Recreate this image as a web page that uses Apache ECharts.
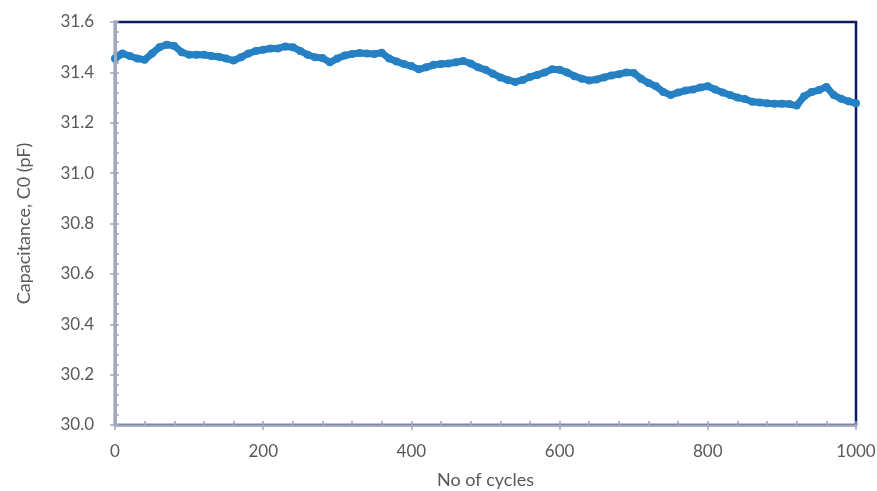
<!DOCTYPE html>
<html>
<head>
<meta charset="utf-8">
<script src="https://cdn.jsdelivr.net/npm/echarts@6/dist/echarts.min.js"></script>
<style>
  html, body { margin: 0; padding: 0; background: #fff; }
  #chart { width: 877px; height: 491px; }
</style>
</head>
<body>
<div id="chart"></div>
<script>
// cycles, read every 10 cycles off the picture
const cycles = []
for (let c = 0; c <= 1000; c += 10) cycles.push(c)

// capacitance C0 (pF)
const capacitance = [
  31.455, 31.475, 31.465, 31.455, 31.45, 31.475, 31.5, 31.51, 31.505, 31.48,
  31.47, 31.47, 31.47, 31.465, 31.462, 31.455, 31.447, 31.46, 31.475, 31.485,
  31.49, 31.495, 31.495, 31.503, 31.5, 31.485, 31.47, 31.46, 31.457, 31.44,
  31.455, 31.467, 31.473, 31.477, 31.475, 31.473, 31.478, 31.455, 31.443, 31.433,
  31.425, 31.412, 31.42, 31.43, 31.433, 31.435, 31.44, 31.445, 31.435, 31.42,
  31.41, 31.395, 31.38, 31.37, 31.362, 31.37, 31.382, 31.39, 31.4, 31.412,
  31.41, 31.4, 31.385, 31.375, 31.368, 31.372, 31.38, 31.388, 31.393, 31.4,
  31.398, 31.375, 31.358, 31.345, 31.322, 31.31, 31.32, 31.328, 31.332, 31.34,
  31.345, 31.332, 31.32, 31.31, 31.3, 31.294, 31.283, 31.28, 31.277, 31.275,
  31.275, 31.274, 31.268, 31.305, 31.322, 31.33, 31.342, 31.31, 31.295, 31.285,
  31.277
]

const xTicks = [0, 200, 400, 600, 800, 1000]

const font = 'Lato, "Open Sans", sans-serif'
const labelColor = '#595959'
const axisColor = '#a3a8be'
const frameColor = '#0d1b5e'
const rect = { left: 115, right: 21, top: 22, bottom: 66, outerBoundsMode: 'none' }

const chart = echarts.init(document.getElementById('chart'))

const option = {
  animation: false,
  grid: [
    // main grid, border gives the dark top/right frame
    Object.assign({ show: true, borderColor: frameColor, borderWidth: 2.5 }, rect),
    // second grid, same place, only for inward minor ticks
    Object.assign({}, rect)
  ],
  xAxis: [
    {
      type: 'value', min: 0, max: 1000, interval: 200,
      name: 'No of cycles', nameLocation: 'middle', nameGap: 46,
      nameTextStyle: { color: labelColor, fontFamily: font, fontSize: 18 },
      axisLine: { lineStyle: { color: axisColor, width: 2.5 } },
      axisTick: { show: true, length: 5, lineStyle: { color: axisColor, width: 1.5 } },
      axisLabel: {
        color: labelColor, fontFamily: font, fontSize: 17, margin: 18,
        formatter: v => xTicks.includes(v) ? String(v) : ''
      },
      splitLine: { show: false },
      z: 5
    },
    {
      gridIndex: 1, type: 'value', min: 0, max: 1000, interval: 40,
      axisLine: { show: false },
      axisTick: { show: true, inside: true, length: 4, lineStyle: { color: axisColor, width: 1.5 } },
      axisLabel: { show: false },
      splitLine: { show: false }
    }
  ],
  yAxis: [
    {
      type: 'value', min: 30, max: 31.6, interval: 0.2,
      name: 'Capacitance, C0 (pF)', nameLocation: 'middle', nameGap: 82,
      nameTextStyle: { color: labelColor, fontFamily: font, fontSize: 18 },
      axisLine: { show: true, lineStyle: { color: axisColor, width: 3 } },
      axisTick: { show: true, length: 5, lineStyle: { color: axisColor, width: 1.5 } },
      axisLabel: {
        color: labelColor, fontFamily: font, fontSize: 17, margin: 21,
        formatter: v => v.toFixed(1)
      },
      splitLine: { show: false },
      z: 5
    },
    {
      gridIndex: 1, type: 'value', min: 30, max: 31.6, interval: 0.04,
      axisLine: { show: false },
      axisTick: { show: true, inside: true, length: 4, lineStyle: { color: axisColor, width: 1.5 } },
      axisLabel: { show: false },
      splitLine: { show: false }
    }
  ],
  series: [
    {
      type: 'line',
      xAxisIndex: 0,
      yAxisIndex: 0,
      data: cycles.map((c, i) => [c, capacitance[i]]),
      symbol: 'circle',
      symbolSize: 8,
      showAllSymbol: true,
      itemStyle: { color: '#2581c4' },
      lineStyle: { color: '#2581c4', width: 7 },
      z: 3
    }
  ]
}

chart.setOption(option)
</script>
</body>
</html>
